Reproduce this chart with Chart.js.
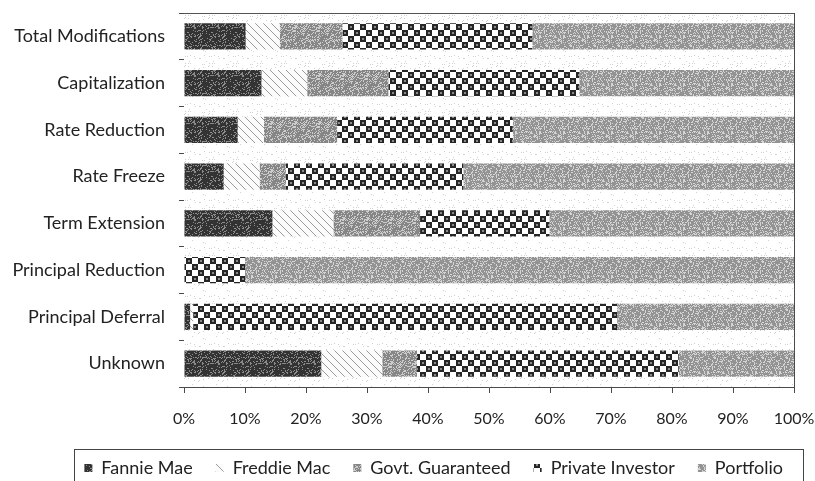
<!DOCTYPE html>
<html>
<head>
<meta charset="utf-8">
<script src="https://cdn.jsdelivr.net/npm/chart.js@4.4.0/dist/chart.umd.min.js"></script>
<style>
  html, body { margin: 0; padding: 0; background: #fff; overflow: hidden; }
  #wrap { width: 815px; height: 481px; overflow: hidden; }
</style>
</head>
<body>
<div id="wrap"><canvas id="modChart" width="815" height="488"></canvas></div>
<script>
// Share of each modification type by investor (percent)
const categories = ['Total Modifications', 'Capitalization', 'Rate Reduction', 'Rate Freeze',
  'Term Extension', 'Principal Reduction', 'Principal Deferral', 'Unknown'];
const fannieMae       = [10.1, 12.7,  8.8,  6.5, 14.5,  0.0,  1.0, 22.5];
const freddieMac      = [ 5.6,  7.5,  4.3,  5.9, 10.0,  0.0,  0.5, 10.0];
const govtGuaranteed  = [10.3, 13.3, 12.0,  4.3, 14.2,  0.0,  0.0,  5.7];
const privateInvestor = [31.1, 31.3, 28.8, 29.1, 21.2, 10.0, 69.5, 42.9];
const portfolio       = [42.9, 35.2, 46.1, 54.2, 40.1, 90.0, 29.0, 18.9];
const xTicks = [0, 10, 20, 30, 40, 50, 60, 70, 80, 90, 100];

const FONT = 'Lato, "Open Sans", sans-serif';

// deterministic speckle for the scanned look
function hash(i, j) {
  let h = (i * 374761393 + j * 668265263) | 0;
  h = (h ^ (h >>> 13)) * 1274126177;
  return ((h ^ (h >>> 16)) >>> 0) / 4294967295;
}

function tile(size, draw) {
  const c = document.createElement('canvas');
  c.width = size; c.height = size;
  draw(c.getContext('2d'), size);
  return document.getElementById('modChart').getContext('2d').createPattern(c, 'repeat');
}

function speckle(base, dot, amount, seed) {
  return tile(24, (ctx, s) => {
    ctx.fillStyle = base;
    ctx.fillRect(0, 0, s, s);
    ctx.fillStyle = dot;
    for (let i = 0; i < s; i++) {
      for (let j = 0; j < s; j++) {
        if (hash(i + seed, j + seed * 3) < amount) ctx.fillRect(i, j, 1, 1);
      }
    }
  });
}

const fanniePat = speckle('#333333', '#8c8c8c', 0.2, 1);
const govtPat = speckle('#868686', '#cdcdcd', 0.3, 7);
const portPat = speckle('#939393', '#d4d4d4', 0.3, 13);

const freddiePat = tile(8, (ctx, s) => {
  ctx.fillStyle = '#fbfbfb';
  ctx.fillRect(0, 0, s, s);
  ctx.strokeStyle = '#9a9a9a';
  ctx.lineWidth = 1;
  ctx.beginPath();
  ctx.moveTo(-1, -1); ctx.lineTo(s + 1, s + 1);
  ctx.moveTo(-1 - s, -1); ctx.lineTo(1, s + 1);
  ctx.moveTo(s - 1, -1); ctx.lineTo(2 * s + 1, s + 1);
  ctx.stroke();
});

const checkerPat = tile(12, (ctx, s) => {
  ctx.fillStyle = '#ffffff';
  ctx.fillRect(0, 0, s, s);
  ctx.fillStyle = '#262626';
  ctx.fillRect(0, 0, 6, 6);
  ctx.fillRect(6, 6, 6, 6);
  ctx.fillStyle = '#8a8a8a';
  ctx.fillRect(2, 2, 2, 2);
  ctx.fillRect(8, 8, 2, 2);
});

const bgPat = speckle('#ffffff', '#d2d2d2', 0.05, 21);

const plotFrame = {
  id: 'plotFrame',
  beforeDatasetsDraw(chart) {
    const { ctx, chartArea: a } = chart;
    ctx.save();
    ctx.fillStyle = bgPat;
    ctx.fillRect(a.left, a.top, a.width, a.height);
    ctx.restore();
  },
  afterDraw(chart) {
    const { ctx, chartArea: a, legend } = chart;
    ctx.save();
    ctx.strokeStyle = '#555';
    ctx.lineWidth = 1;
    ctx.beginPath();
    ctx.moveTo(a.left, a.top + 0.5);
    ctx.lineTo(a.right, a.top + 0.5);
    ctx.stroke();
    // box round the legend
    const boxes = legend.legendHitBoxes;
    if (boxes && boxes.length) {
      const first = boxes[0], last = boxes[boxes.length - 1];
      const l = first.left - 10, r = last.left + last.width + 20;
      const t = legend.top + 13;
      ctx.strokeStyle = '#444';
      ctx.strokeRect(Math.round(l) + 0.5, Math.round(t) + 0.5, Math.round(r - l), 60);
    }
    ctx.restore();
  }
};

new Chart(document.getElementById('modChart'), {
  type: 'bar',
  data: {
    labels: categories,
    datasets: [
      { label: 'Fannie Mae', data: fannieMae, backgroundColor: fanniePat },
      { label: 'Freddie Mac', data: freddieMac, backgroundColor: freddiePat },
      { label: 'Govt. Guaranteed', data: govtGuaranteed, backgroundColor: govtPat },
      { label: 'Private Investor', data: privateInvestor, backgroundColor: checkerPat },
      { label: 'Portfolio', data: portfolio, backgroundColor: portPat }
    ]
  },
  options: {
    indexAxis: 'y',
    responsive: false,
    animation: false,
    layout: { padding: { left: 0, right: 9, top: 13, bottom: 1 } },
    datasets: { bar: { categoryPercentage: 1, barPercentage: 0.56, borderWidth: 0 } },
    scales: {
      x: {
        stacked: true,
        min: 0,
        max: 100,
        afterBuildTicks(scale) { scale.ticks = xTicks.map(v => ({ value: v })); },
        afterFit(scale) { scale.height = 49; scale.paddingRight = 21; },
        grid: { color: '#4a4a4a', lineWidth: 1, tickLength: 6 },
        border: { color: '#4a4a4a' },
        ticks: { color: '#222', font: { family: FONT, size: 16 }, padding: 16,
          callback: v => v + '%' }
      },
      y: {
        stacked: true,
        afterFit(scale) { scale.width = 184; scale.paddingTop = 0; scale.paddingBottom = 0; },
        grid: { drawOnChartArea: false, color: '#4a4a4a', tickLength: 5 },
        border: { color: '#4a4a4a' },
        ticks: { color: '#222', font: { family: FONT, size: 18 }, padding: 14 }
      }
    },
    plugins: {
      tooltip: { enabled: false },
      legend: {
        position: 'bottom',
        align: 'end',
        labels: {
          boxWidth: 8,
          boxHeight: 8,
          padding: 23,
          color: '#222',
          font: { family: FONT, size: 18 }
        }
      }
    }
  },
  plugins: [plotFrame]
});
</script>
</body>
</html>
